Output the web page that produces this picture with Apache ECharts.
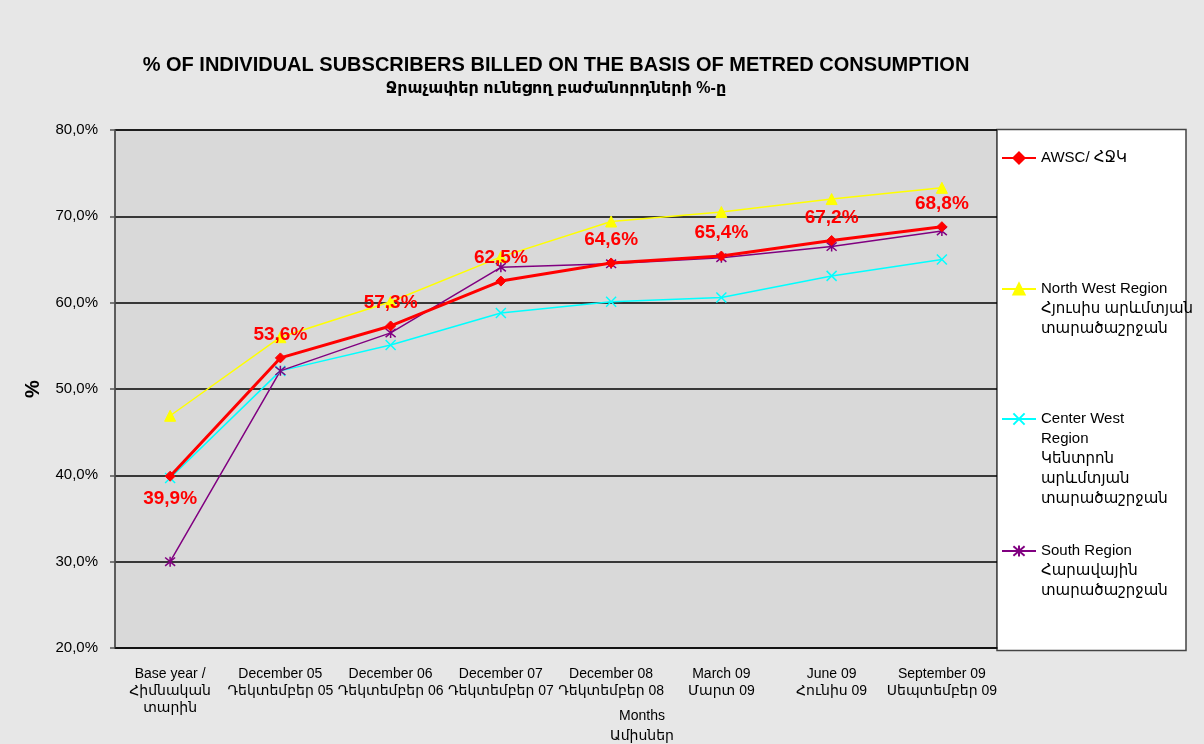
<!DOCTYPE html>
<html>
<head>
<meta charset="utf-8">
<script src="https://cdn.jsdelivr.net/npm/echarts@6/dist/echarts.min.js"></script>
<style>
html,body{margin:0;padding:0;background:#e7e7e7;}
#chart{width:1204px;height:744px;}
</style>
</head>
<body>
<div id="chart"></div>
<script>
const titleText = '% OF INDIVIDUAL SUBSCRIBERS BILLED ON THE BASIS OF METRED CONSUMPTION';
const subtitleText = 'Ջրաչափեր ունեցող բաժանորդների %-ը';
const categories = [
  'Base year /\nՀիմնական\nտարին',
  'December 05\nԴեկտեմբեր 05',
  'December 06\nԴեկտեմբեր 06',
  'December 07\nԴեկտեմբեր 07',
  'December 08\nԴեկտեմբեր 08',
  'March 09\nՄարտ 09',
  'June 09\nՀունիս 09',
  'September 09\nՍեպտեմբեր 09'
];
const seriesNames = [
  'AWSC/ ՀՋԿ',
  'North West Region\nՀյուսիս արևմտյան\nտարածաշրջան',
  'Center West\nRegion\nԿենտրոն\nարևմտյան\nտարածաշրջան',
  'South Region\nՀարավային\nտարածաշրջան'
];
const awsc       = [39.9, 53.6, 57.3, 62.5, 64.6, 65.4, 67.2, 68.8];
const northWest  = [46.9, 56.0, 60.1, 65.3, 69.4, 70.5, 72.0, 73.3];
const centerWest = [39.7, 52.1, 55.1, 58.8, 60.1, 60.6, 63.1, 65.0];
const south      = [30.0, 52.1, 56.5, 64.1, 64.5, 65.2, 66.5, 68.3];
const yMin = 20, yMax = 80, yStep = 10;
const xAxisTitle = 'Months\nԱմիսներ';
const yAxisTitle = '%';

const FONT = '"Liberation Sans", "DejaVu Sans", Arial, sans-serif';
const fmtPct = v => v.toFixed(1).replace('.', ',') + '%';

const chart = echarts.init(document.getElementById('chart'), null, {renderer: 'canvas'});

const legendCenters = [158, 289, 419, 551];
const legends = seriesNames.map((name, i) => {
  const n = name.split('\n').length;
  return {
    data: [name],
    left: 1001,
    top: legendCenters[i] - 20 * n + 10,
    padding: 0,
    itemWidth: 34,
    itemHeight: 14,
    itemGap: 0,
    selectedMode: false,
    formatter: nm => '\n'.repeat(n - 1) + nm,
    textStyle: {fontFamily: FONT, fontSize: 15, color: '#000', lineHeight: 20}
  };
});

const xSym = 'path://M0,0L10,10M10,0L0,10';
const starSym = 'path://M0,0L10,10M10,0L0,10M5,-1L5,11';

chart.setOption({
  backgroundColor: '#e7e7e7',
  animation: false,
  title: {
    text: titleText,
    subtext: subtitleText,
    left: 556,
    textAlign: 'center',
    top: 55,
    padding: 0,
    itemGap: 6,
    textStyle: {fontFamily: FONT, fontSize: 20, fontWeight: 'bold', color: '#000'},
    subtextStyle: {fontFamily: FONT, fontSize: 16, fontWeight: 'bold', color: '#000'}
  },
  graphic: [{
    type: 'rect',
    shape: {x: 997, y: 129.5, width: 189, height: 521},
    style: {fill: '#fff', stroke: '#444', lineWidth: 1.5},
    z: 0
  }],
  legend: legends,
  grid: {
    left: 115, right: 207, top: 130, bottom: 96,
    outerBoundsMode: 'none',
    containLabel: false,
    show: true, backgroundColor: '#d9d9d9', borderColor: '#555', borderWidth: 1.5
  },
  xAxis: {
    type: 'category',
    data: categories,
    boundaryGap: true,
    name: xAxisTitle,
    nameLocation: 'middle',
    nameGap: 58,
    nameMoveOverlap: false,
    nameTextStyle: {fontFamily: FONT, fontSize: 14, color: '#000', lineHeight: 20, padding: [0, 0, 0, 172]},
    axisLine: {show: true, lineStyle: {color: '#111', width: 1.5}},
    axisTick: {show: false},
    axisLabel: {fontFamily: FONT, fontSize: 14, color: '#000', lineHeight: 17, margin: 18, interval: 0},
    splitLine: {show: false}
  },
  yAxis: {
    type: 'value',
    min: yMin, max: yMax, interval: yStep,
    name: yAxisTitle,
    nameLocation: 'middle',
    nameGap: 72,
    nameMoveOverlap: false,
    nameRotate: 90,
    nameTextStyle: {fontFamily: FONT, fontSize: 20, fontWeight: 'bold', color: '#000'},
    axisLine: {show: true, lineStyle: {color: '#555', width: 1.5}},
    axisTick: {show: true, inside: false, length: 5, lineStyle: {color: '#555', width: 1.5}},
    axisLabel: {fontFamily: FONT, fontSize: 15, color: '#000', margin: 17, formatter: fmtPct},
    splitLine: {show: true, lineStyle: {color: '#000', width: 1.5}}
  },
  series: [
    {
      name: seriesNames[0], type: 'line', data: awsc.map((v, i) => i === 0
        ? {value: v, label: {position: 'bottom'}} : v),
      symbol: 'diamond', symbolSize: 10, z: 3,
      lineStyle: {color: '#ff0000', width: 3},
      itemStyle: {color: '#ff0000', borderColor: '#ff0000', borderWidth: 1},
      label: {
        show: true, position: 'top', distance: 8,
        fontFamily: FONT, fontSize: 19, fontWeight: 'bold', color: '#ff0000',
        formatter: p => fmtPct(p.value)
      }
    },
    {
      name: seriesNames[1], type: 'line', data: northWest,
      symbol: 'triangle', symbolSize: 11, z: 2,
      lineStyle: {color: '#ffff00', width: 1.5},
      itemStyle: {color: '#ffff00', borderColor: '#ffff00', borderWidth: 1}
    },
    {
      name: seriesNames[2], type: 'line', data: centerWest,
      symbol: xSym, symbolSize: 10, z: 2,
      lineStyle: {color: '#00ffff', width: 1.5},
      itemStyle: {color: '#00ffff', borderColor: '#00ffff', borderWidth: 1.5}
    },
    {
      name: seriesNames[3], type: 'line', data: south,
      symbol: starSym, symbolSize: 10, z: 2,
      lineStyle: {color: '#800080', width: 1.5},
      itemStyle: {color: '#800080', borderColor: '#800080', borderWidth: 1.5}
    }
  ]
});
</script>
</body>
</html>
